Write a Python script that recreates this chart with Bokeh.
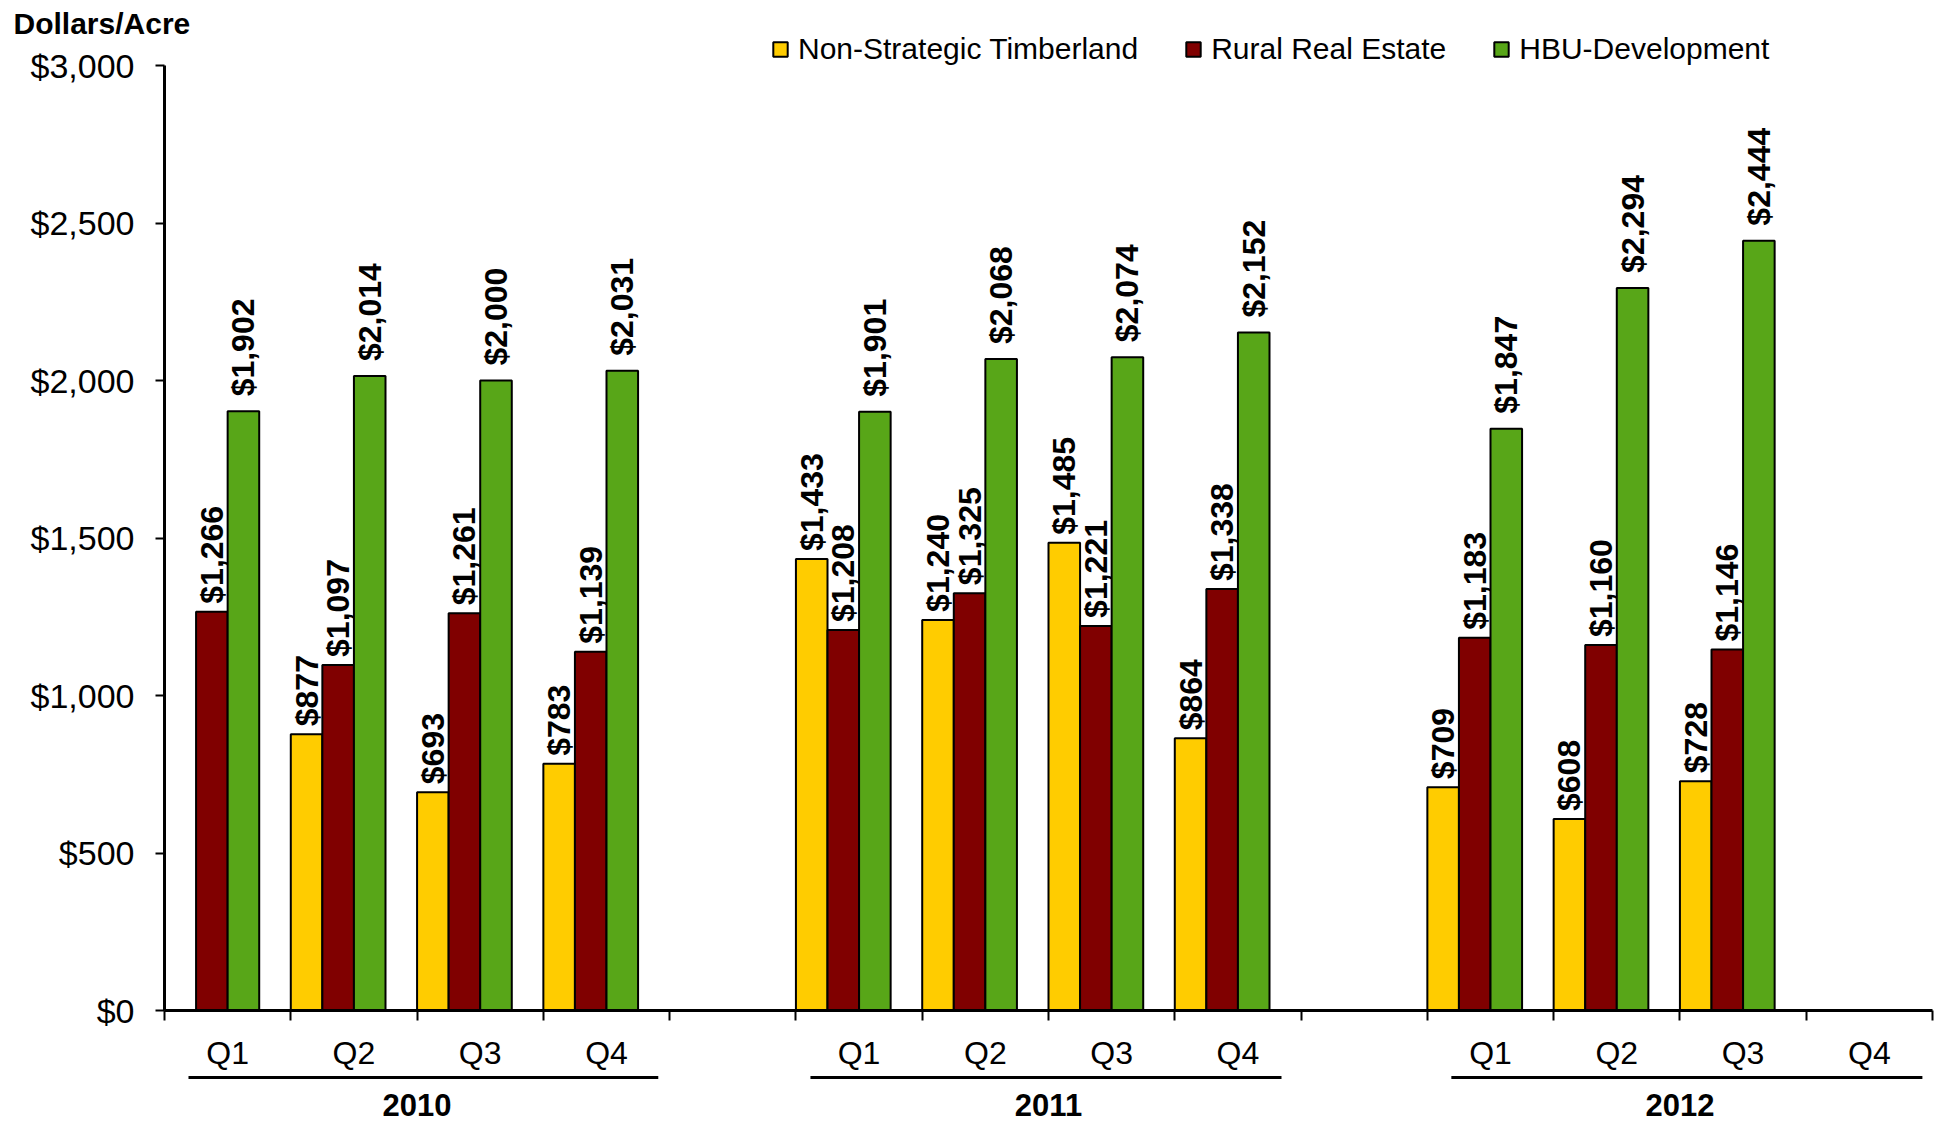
import math

from bokeh.core.properties import value
from bokeh.embed import file_html
from bokeh.models import (ColumnDataSource, FixedTicker, Label, Legend, LegendItem,
                          LinearAxis, NumeralTickFormatter, Range1d)
from bokeh.plotting import figure
from bokeh.resources import INLINE

# ---- data -------------------------------------------------------------
years = ["2010", "2011", "2012"]
quarters = ["Q1", "Q2", "Q3", "Q4"]
series_names = ["Non-Strategic Timberland", "Rural Real Estate", "HBU-Development"]

# dollars per acre, one entry per quarter (2010 Q1 .. 2012 Q4)
timberland = [None, 877, 693, 783, 1433, 1240, 1485, 864, 709, 608, 728, None]
rural_real_estate = [1266, 1097, 1261, 1139, 1208, 1325, 1221, 1338, 1183, 1160, 1146, None]
hbu_development = [1902, 2014, 2000, 2031, 1901, 2068, 2074, 2152, 1847, 2294, 2444, None]

y_ticks = [0, 500, 1000, 1500, 2000, 2500, 3000]

# ---- styling ------------------------------------------------------------
colors = ["#FFCC00", "#800000", "#58A618"]
label_gap_px = [8, 8, 15]
FONT = "Liberation Sans"

W, H = 1939, 1123
# pixel positions of the value axis (x = 0 .. N_SLOTS, y = 0 .. Y_MAX)
X0_PX, X1_PX = 164, 1932
Y0_PX, Y1_PX = 1010, 65
Y_MAX = 3000
N_SLOTS = len(years) * 5 - 1          # four quarters per year plus a spacer slot

ppx = (X1_PX - X0_PX) / N_SLOTS       # screen pixels per slot
ppy = (Y0_PX - Y1_PX) / Y_MAX         # screen pixels per dollar
x_start, x_end = -X0_PX / ppx, N_SLOTS + (W - X1_PX) / ppx
y_start, y_end = -(H - Y0_PX) / ppy, Y_MAX + Y1_PX / ppy


def px_x(px):
    return (px - X0_PX) / ppx


def px_y(py):
    return (Y0_PX - py) / ppy


BAR_W = 0.25


def slot_of(i):
    """Slot index of quarter i (0-based, 2010 Q1 first)."""
    return (i // 4) * 5 + (i % 4)


p = figure(width=W, height=H, x_range=Range1d(x_start, x_end), y_range=Range1d(y_start, y_end),
           output_backend="svg", toolbar_location=None,
           x_axis_location=None, y_axis_location=None,
           min_border=0, min_border_left=0, min_border_right=0,
           min_border_top=0, min_border_bottom=0)
p.outline_line_color = None
p.xgrid.visible = False
p.ygrid.visible = False
p.background_fill_color = "white"
p.border_fill_color = "white"

# ---- bars and value labels ------------------------------------------------
renderers = []
for k, (vals, color, gap) in enumerate(zip([timberland, rural_real_estate, hbu_development],
                                           colors, label_gap_px)):
    xs, tops, texts = [], [], []
    for i, v in enumerate(vals):
        if v is None:
            continue
        xs.append(slot_of(i) + BAR_W * (k + 0.5))
        tops.append(v)
        texts.append("${:,}".format(v))
    src = ColumnDataSource(dict(x=xs, top=tops, text=texts))
    r = p.vbar(x="x", top="top", bottom=0, width=BAR_W, source=src,
               fill_color=color, line_color="black", line_width=2)
    renderers.append(r)
    p.text(x="x", y="top", text="text", source=src, angle=math.pi / 2,
           text_align="left", text_baseline="middle", y_offset=-gap,
           text_font=value(FONT), text_font_style="bold",
           text_font_size="32px", text_color="black")

# ---- y axis -----------------------------------------------------------------
ya = LinearAxis(fixed_location=0, bounds=(0, Y_MAX))
ya.ticker = FixedTicker(ticks=y_ticks, minor_ticks=[])
ya.formatter = NumeralTickFormatter(format="$0,0")
ya.major_label_text_font = FONT
ya.major_label_text_font_size = "34px"
ya.major_label_text_color = "black"
ya.major_label_standoff = 21
ya.major_tick_out = 9
ya.major_tick_in = 0
ya.major_tick_line_width = 2
ya.axis_line_width = 3
ya.axis_line_color = "black"
p.add_layout(ya, "left")

# ---- x axis: quarter names centred in slots, ticks on slot edges -------------
centers = [slot_of(i) + 0.5 for i in range(len(years) * 4)]
xa = LinearAxis(fixed_location=0, bounds=(0, N_SLOTS))
xa.ticker = FixedTicker(ticks=centers, minor_ticks=list(range(N_SLOTS + 1)))
xa.major_label_overrides = {c: quarters[i % 4] for i, c in enumerate(centers)}
xa.major_label_text_font = FONT
xa.major_label_text_font_size = "32px"
xa.major_label_text_color = "black"
xa.major_label_standoff = 14
xa.major_tick_out = 0
xa.major_tick_in = 0
xa.minor_tick_out = 10
xa.minor_tick_in = 0
xa.minor_tick_line_width = 2
xa.minor_tick_line_color = "black"
xa.axis_line_width = 3
xa.axis_line_color = "black"
p.add_layout(xa, "below")

# ---- year brackets under the quarter labels -----------------------------------
year_starts = [j * 5 for j in range(len(years))]
bracket_from = [0.19, 0.115, 0.19]
bracket_to = [3.91, 3.845, 3.92]
p.segment(x0=[s + a for s, a in zip(year_starts, bracket_from)],
          x1=[s + b for s, b in zip(year_starts, bracket_to)],
          y0=px_y(1077), y1=px_y(1077), line_color="black", line_width=3)
for s, yr in zip(year_starts, years):
    p.add_layout(Label(x=s + 2, y=px_y(1104), text=yr, text_align="center",
                       text_baseline="alphabetic", text_font=FONT,
                       text_font_style="bold", text_font_size="31px",
                       text_color="black"))

# ---- axis title ---------------------------------------------------------------
p.add_layout(Label(x=px_x(13), y=px_y(23), text="Dollars/Acre",
                   text_align="left", text_baseline="alphabetic", text_font=FONT,
                   text_font_style="bold", text_font_size="30px",
                   text_color="black"))

# ---- legend -------------------------------------------------------------------
legend = Legend(items=[LegendItem(label=n, renderers=[r]) for n, r in zip(series_names, renderers)],
                orientation="horizontal", location=(771, H - 66),
                glyph_width=18, glyph_height=18, label_standoff=9, spacing=46,
                padding=0, margin=0, border_line_color=None, background_fill_alpha=0,
                label_text_font=FONT, label_text_font_size="30px",
                label_text_color="black")
p.add_layout(legend, "center")

open("out.html", "w").write(file_html(p, INLINE))
